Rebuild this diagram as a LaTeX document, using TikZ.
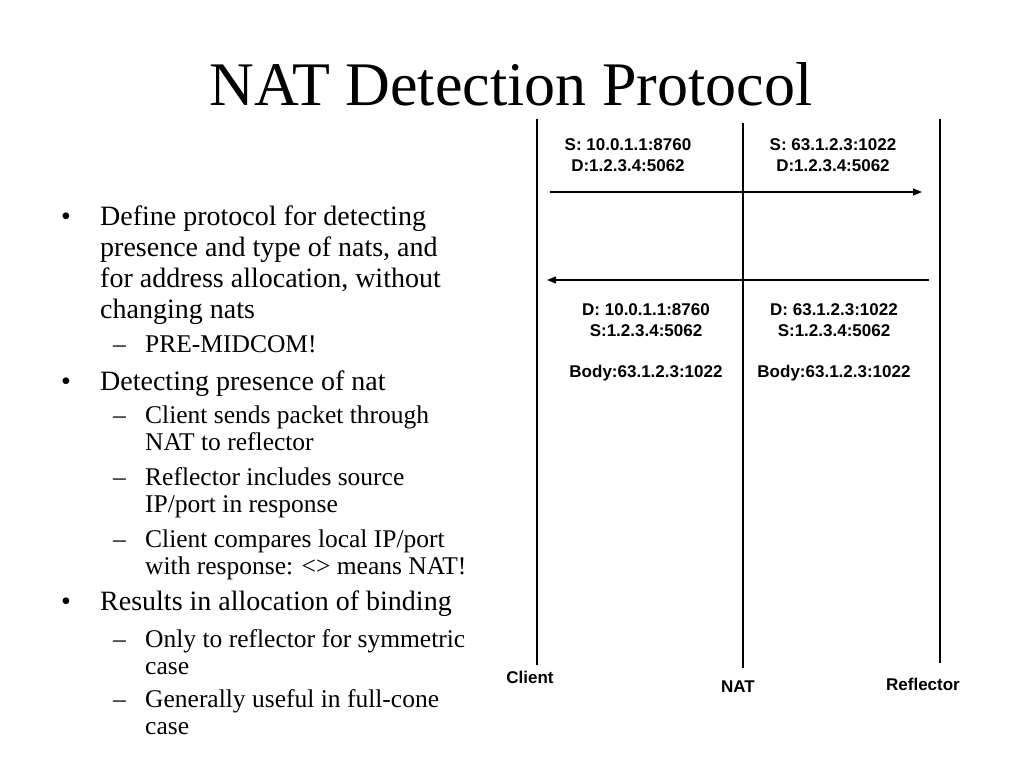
\documentclass[tikz,border=0pt]{standalone}
\usepackage{fontspec}
\setmainfont{Liberation Serif}
\setsansfont{Liberation Sans}
\usetikzlibrary{arrows.meta}
\tikzset{
 slidetitle/.style={anchor=base, inner sep=0pt, font=\fontsize{62}{62}\selectfont},
 item/.style={anchor=base west, align=left, inner sep=0pt, font=\fontsize{28}{31}\selectfont},
 subitem/.style={anchor=base west, align=left, inner sep=0pt, font=\fontsize{25.5}{27}\selectfont},
 dotmark/.style={anchor=base west, inner sep=0pt, font=\fontsize{28}{31}\selectfont},
 dashmark/.style={anchor=base west, inner sep=0pt, font=\fontsize{25.5}{27}\selectfont},
 packet/.style={anchor=base, align=center, inner sep=0pt, font=\sffamily\bfseries\fontsize{17}{20.5}\selectfont},
 party/.style={anchor=base, inner sep=0pt, font=\sffamily\bfseries\fontsize{17}{20}\selectfont},
 lifeline/.style={line width=1.5pt},
 msg/.style={-{Triangle[length=9pt,width=7pt]}, line width=1.2pt}
}
\begin{document}
\begin{tikzpicture}[x=1pt,y=-1pt]
\fill[white] (0,0) rectangle (1024,768);
\useasboundingbox (0,0) rectangle (1024,768);

\node[slidetitle] (title) at (511,105) {NAT Detection Protocol};

% bullet list (multi-line nodes sit on the baseline of their last line)
\node[dotmark] (b1) at (61,225) {\textbullet};
\node[item] (t1) at (100,318) {Define protocol for detecting\\presence and type of nats, and\\for address allocation, without\\changing nats};
\node[dashmark] (d1) at (113,352) {\textendash};
\node[subitem] (s1) at (145,352) {PRE-MIDCOM!};
\node[dotmark] (b2) at (61,390) {\textbullet};
\node[item] (t2) at (100,390) {Detecting presence of nat};
\node[dashmark] (d2) at (113,423) {\textendash};
\node[subitem] (s2) at (145,450) {Client sends packet through\\NAT to reflector};
\node[dashmark] (d3) at (113,485) {\textendash};
\node[subitem] (s3) at (145,512) {Reflector includes source\\IP/port in response};
\node[dashmark] (d4) at (113,547) {\textendash};
\node[subitem] (s4) at (145,574) {Client compares local IP/port\\with response: <> means NAT!};
\node[dotmark] (b3) at (61,610) {\textbullet};
\node[item] (t3) at (100,610) {Results in allocation of binding};
\node[dashmark] (d5) at (113,647) {\textendash};
\node[subitem] (s5) at (145,674) {Only to reflector for symmetric\\case};
\node[dashmark] (d6) at (113,707) {\textendash};
\node[subitem] (s6) at (145,734) {Generally useful in full-cone\\case};

% lifelines
\coordinate (cltop) at (537,119);
\coordinate (clbot) at (537,665);
\coordinate (nattop) at (743,123);
\coordinate (natbot) at (743,668);
\coordinate (reftop) at (940,119);
\coordinate (refbot) at (940,663);
\draw[lifeline] (cltop) -- (clbot);
\draw[lifeline] (nattop) -- (natbot);
\draw[lifeline] (reftop) -- (refbot);

\node[party] (client) at (530,683) {Client};
\node[party] (nat) at (738,692) {NAT};
\node[party] (reflector) at (923,690) {Reflector};

% messages
\coordinate (reqstart) at (550,192);
\coordinate (reqend) at (922,192);
\coordinate (respstart) at (929,280);
\coordinate (respend) at (547,280);
\draw[msg] (reqstart) -- (reqend);
\draw[msg] (respstart) -- (respend);

\node[packet] (req1) at (628,171) {S: 10.0.1.1:8760\\D:1.2.3.4:5062};
\node[packet] (req2) at (833,171) {S: 63.1.2.3:1022\\D:1.2.3.4:5062};
\node[packet] (resp1) at (646,377) {D: 10.0.1.1:8760\\S:1.2.3.4:5062\\[20.5pt]Body:63.1.2.3:1022};
\node[packet] (resp2) at (834,377) {D: 63.1.2.3:1022\\S:1.2.3.4:5062\\[20.5pt]Body:63.1.2.3:1022};
\end{tikzpicture}
\end{document}
